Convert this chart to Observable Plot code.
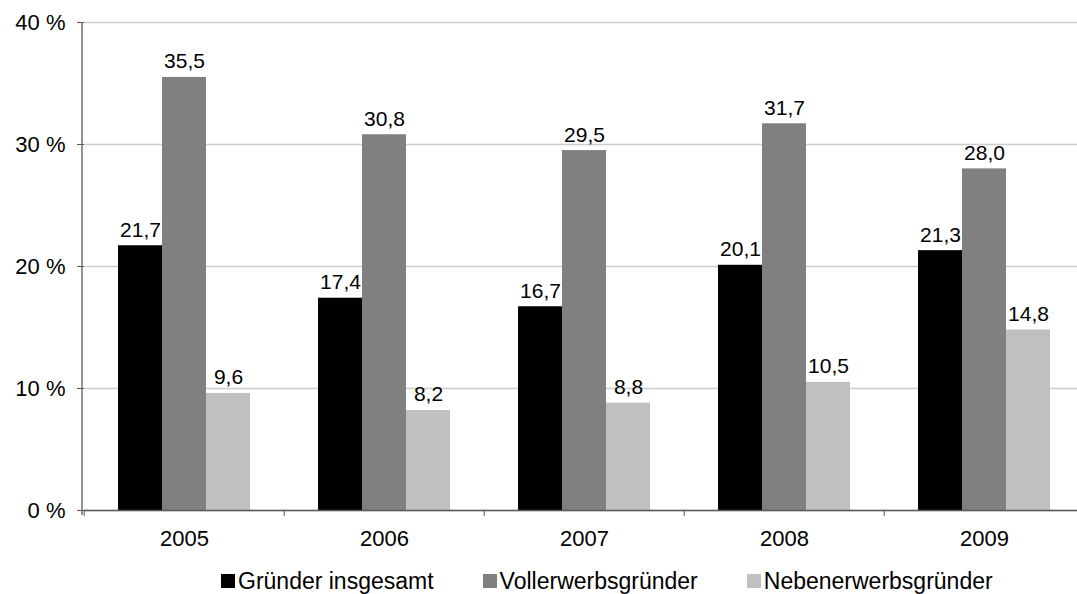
<!DOCTYPE html>
<html>
<head>
<meta charset="utf-8">
<script src="https://cdn.jsdelivr.net/npm/d3@7"></script>
<script src="https://cdn.jsdelivr.net/npm/@observablehq/plot@0.6"></script>
<style>
  body { margin: 0; background: #fff; font-family: "Liberation Sans", Arial, sans-serif; }
  #chart svg { display: block; overflow: visible; }
  #legend { display: flex; justify-content: flex-start; gap: 49px; font-size: 23px; color: #000; height: 30px; align-items: center; padding-left: 221px; margin-top: 4px; }
  .item { display: flex; align-items: center; }
  .sw { width: 14px; height: 14px; margin-right: 3px; display: inline-block; }
</style>
</head>
<body>
<div id="chart"></div>
<div id="legend"></div>
<script>
const years = ["2005", "2006", "2007", "2008", "2009"];
const series = ["Gründer insgesamt", "Vollerwerbsgründer", "Nebenerwerbsgründer"];
const gesamt = [21.7, 17.4, 16.7, 20.1, 21.3];
const voll = [35.5, 30.8, 29.5, 31.7, 28.0];
const neben = [9.6, 8.2, 8.8, 10.5, 14.8];
const colors = ["#000000", "#808080", "#c0c0c0"];
const yTicks = [0, 10, 20, 30, 40];

const values = [gesamt, voll, neben];
const rows = [];
years.forEach((yr, i) => {
  series.forEach((s, j) => rows.push({year: yr, series: s, value: values[j][i]}));
});

const fmt = v => v.toFixed(1).replace(".", ",");

const plot = Plot.plot({
  width: 1077,
  height: 562,
  marginLeft: 82,
  marginRight: -8,
  marginTop: 22,
  marginBottom: 52,
  style: {fontFamily: "Liberation Sans, Arial, sans-serif", fontSize: "21px", color: "#000", background: "#fff"},
  fx: {domain: years, padding: 0, label: null},
  x: {domain: series, paddingInner: 0, paddingOuter: 0.733, axis: null},
  y: {domain: [0, 40], label: null},
  color: {domain: series, range: colors},
  facet: {data: rows, x: "year"},
  marks: [
    Plot.gridY(yTicks, {stroke: "#cccccc", strokeOpacity: 1, strokeWidth: 1.3}),
    Plot.barY(rows, {x: "series", y: "value", fill: "series", fx: "year"}),
    Plot.text(rows, {x: "series", y: "value", fx: "year", text: d => fmt(d.value), lineAnchor: "bottom", dy: -9, fontSize: 21, fill: "#000"}),
    Plot.ruleY([0], {stroke: "#595959", strokeWidth: 1.3}),
    Plot.axisY(yTicks, {tickFormat: d => d + " %", tickSize: 7, tickPadding: 12, fontSize: 22, stroke: "#595959", fill: "#000", label: null}),
    Plot.axisFx({anchor: "bottom", tickSize: 0, tickPadding: 20, fontSize: 22, fill: "#000", label: null}),
    Plot.axisFx({anchor: "bottom", tickSize: 6, tickFormat: () => "", dx: -100.3, stroke: "#595959", label: null})
  ]
});

// y axis line
const svg = d3.select(plot);
const yS = plot.scale("y");
svg.append("line")
  .attr("x1", 82).attr("x2", 82)
  .attr("y1", yS.apply(40)).attr("y2", yS.apply(0) + 5)
  .attr("stroke", "#595959").attr("stroke-width", 1.3);

document.getElementById("chart").appendChild(plot);

const legend = document.getElementById("legend");
series.forEach((s, i) => {
  const it = document.createElement("div");
  it.className = "item";
  it.innerHTML = `<span class="sw" style="background:${colors[i]}"></span><span>${s}</span>`;
  legend.appendChild(it);
});
</script>
</body>
</html>
